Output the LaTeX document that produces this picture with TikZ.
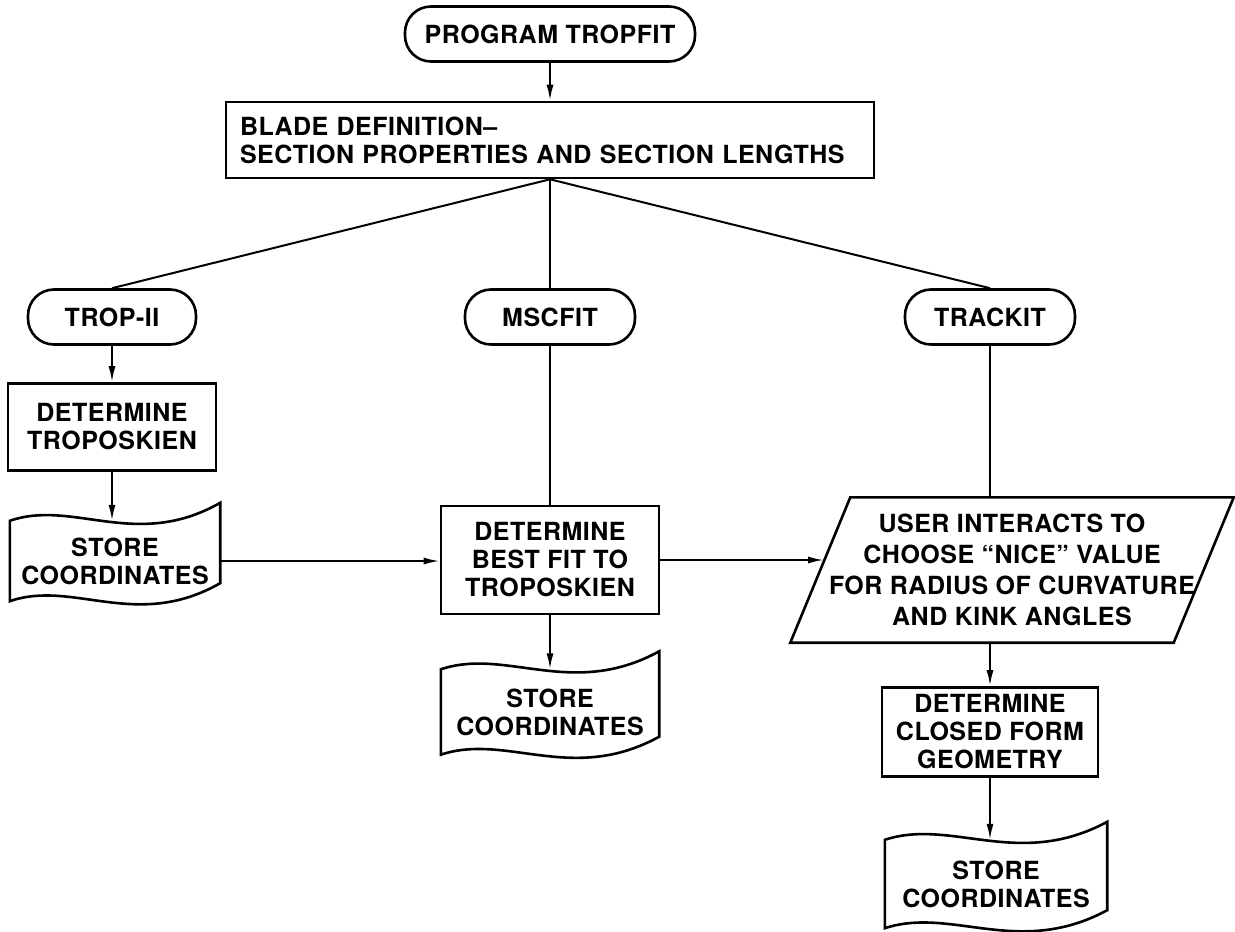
\documentclass[tikz,border=0pt]{standalone}
\usepackage{fontspec}
\setmainfont{TeX Gyre Heros}[LetterSpace=2]
\usetikzlibrary{arrows.meta,calc}
\tikzset{
  txt/.style={font=\fontsize{25}{28}\selectfont\bfseries, align=center, inner sep=0pt},
  term/.style={txt, draw, line width=2.6pt, rounded corners=26pt, minimum height=55pt},
  proc/.style={txt, draw, line width=2.6pt},
  docnode/.style={txt},
  outline/.style={line width=2.6pt},
  arr/.style={-{Latex[length=16pt,width=7pt]}, line width=2pt},
  ln/.style={line width=2pt}
}
\newcommand{\docoutline}[1]{%
  \draw[outline] let \p1=(#1.north west), \p2=(#1.south east) in
    (\x1,\y1) .. controls ({\x1+0.3*(\x2-\x1)},{\y1+22pt}) and ({\x1+0.6*(\x2-\x1)},{\y1-30pt}) .. (\x2,{\y1+18pt})
    -- (\x2,{\y2+18pt}) .. controls ({\x1+0.6*(\x2-\x1)},{\y2-30pt}) and ({\x1+0.3*(\x2-\x1)},{\y2+22pt}) .. (\x1,\y2)
    -- cycle;}
\begin{document}
\begin{tikzpicture}[x=1pt,y=-1pt]
\useasboundingbox[fill=white] (0,0) rectangle (1235,932);

\node[term, minimum width=290pt] (start) at (550,34) {PROGRAM TROPFIT};
\node[proc, minimum width=648pt, minimum height=76pt, text width=620pt, align=left] (blade) at (550,140) {BLADE DEFINITION–\\SECTION PROPERTIES AND SECTION LENGTHS};

\node[term, minimum width=168pt] (trop) at (112,317) {TROP-II};
\node[term, minimum width=170pt] (msc) at (550,317) {MSCFIT};
\node[term, minimum width=170pt] (track) at (990,317) {TRACKIT};

\node[proc, minimum width=208pt, minimum height=87pt] (det1) at (112,427) {DETERMINE\\TROPOSKIEN};
\node[docnode, minimum width=210pt, minimum height=80pt] (doc1) at (115,561) {STORE\\COORDINATES};

\node[proc, minimum width=218pt, minimum height=108pt] (det2) at (550,560) {DETERMINE\\BEST FIT TO\\TROPOSKIEN};
\node[docnode, minimum width=218pt, minimum height=85pt] (doc2) at (550,712) {STORE\\COORDINATES};

\node[txt, font=\fontsize{25}{31}\selectfont\bfseries, minimum width=383pt, minimum height=145pt] (user) at (1012,570) {USER INTERACTS TO\\CHOOSE “NICE” VALUE\\FOR RADIUS OF CURVATURE\\AND KINK ANGLES};
\draw[outline] ([xshift=30pt]user.north west) -- ([xshift=30pt]user.north east)
  -- ([xshift=-30pt]user.south east) -- ([xshift=-30pt]user.south west) -- cycle;

\node[proc, minimum width=216pt, minimum height=89pt] (det3) at (990,732) {DETERMINE\\CLOSED FORM\\GEOMETRY};
\node[docnode, minimum width=222pt, minimum height=88pt] (doc3) at (996,884) {STORE\\COORDINATES};

\docoutline{doc1}
\docoutline{doc2}
\docoutline{doc3}

\coordinate (pin) at (824,560);

\draw[arr] (start.south) -- (blade.north);
\draw[ln] (blade.south) -- (trop.north);
\draw[ln] (blade.south) -- (msc.north);
\draw[ln] (blade.south) -- (track.north);
\draw[arr] (trop.south) -- (det1.north);
\draw[arr] (det1.south) -- (det1.south |- doc1.north);
\draw[arr] (doc1.east) -- (doc1.east -| det2.west);
\draw[ln] (msc.south) -- (det2.north);
\draw[arr] (det2.south) -- (doc2.north);
\draw[arr] (det2.east) -- (pin);
\draw[ln] (track.south) -- (track.south |- user.north);
\draw[arr] (det3.north |- user.south) -- (det3.north);
\draw[arr] (det3.south) -- (det3.south |- doc3.north);
\end{tikzpicture}
\end{document}
